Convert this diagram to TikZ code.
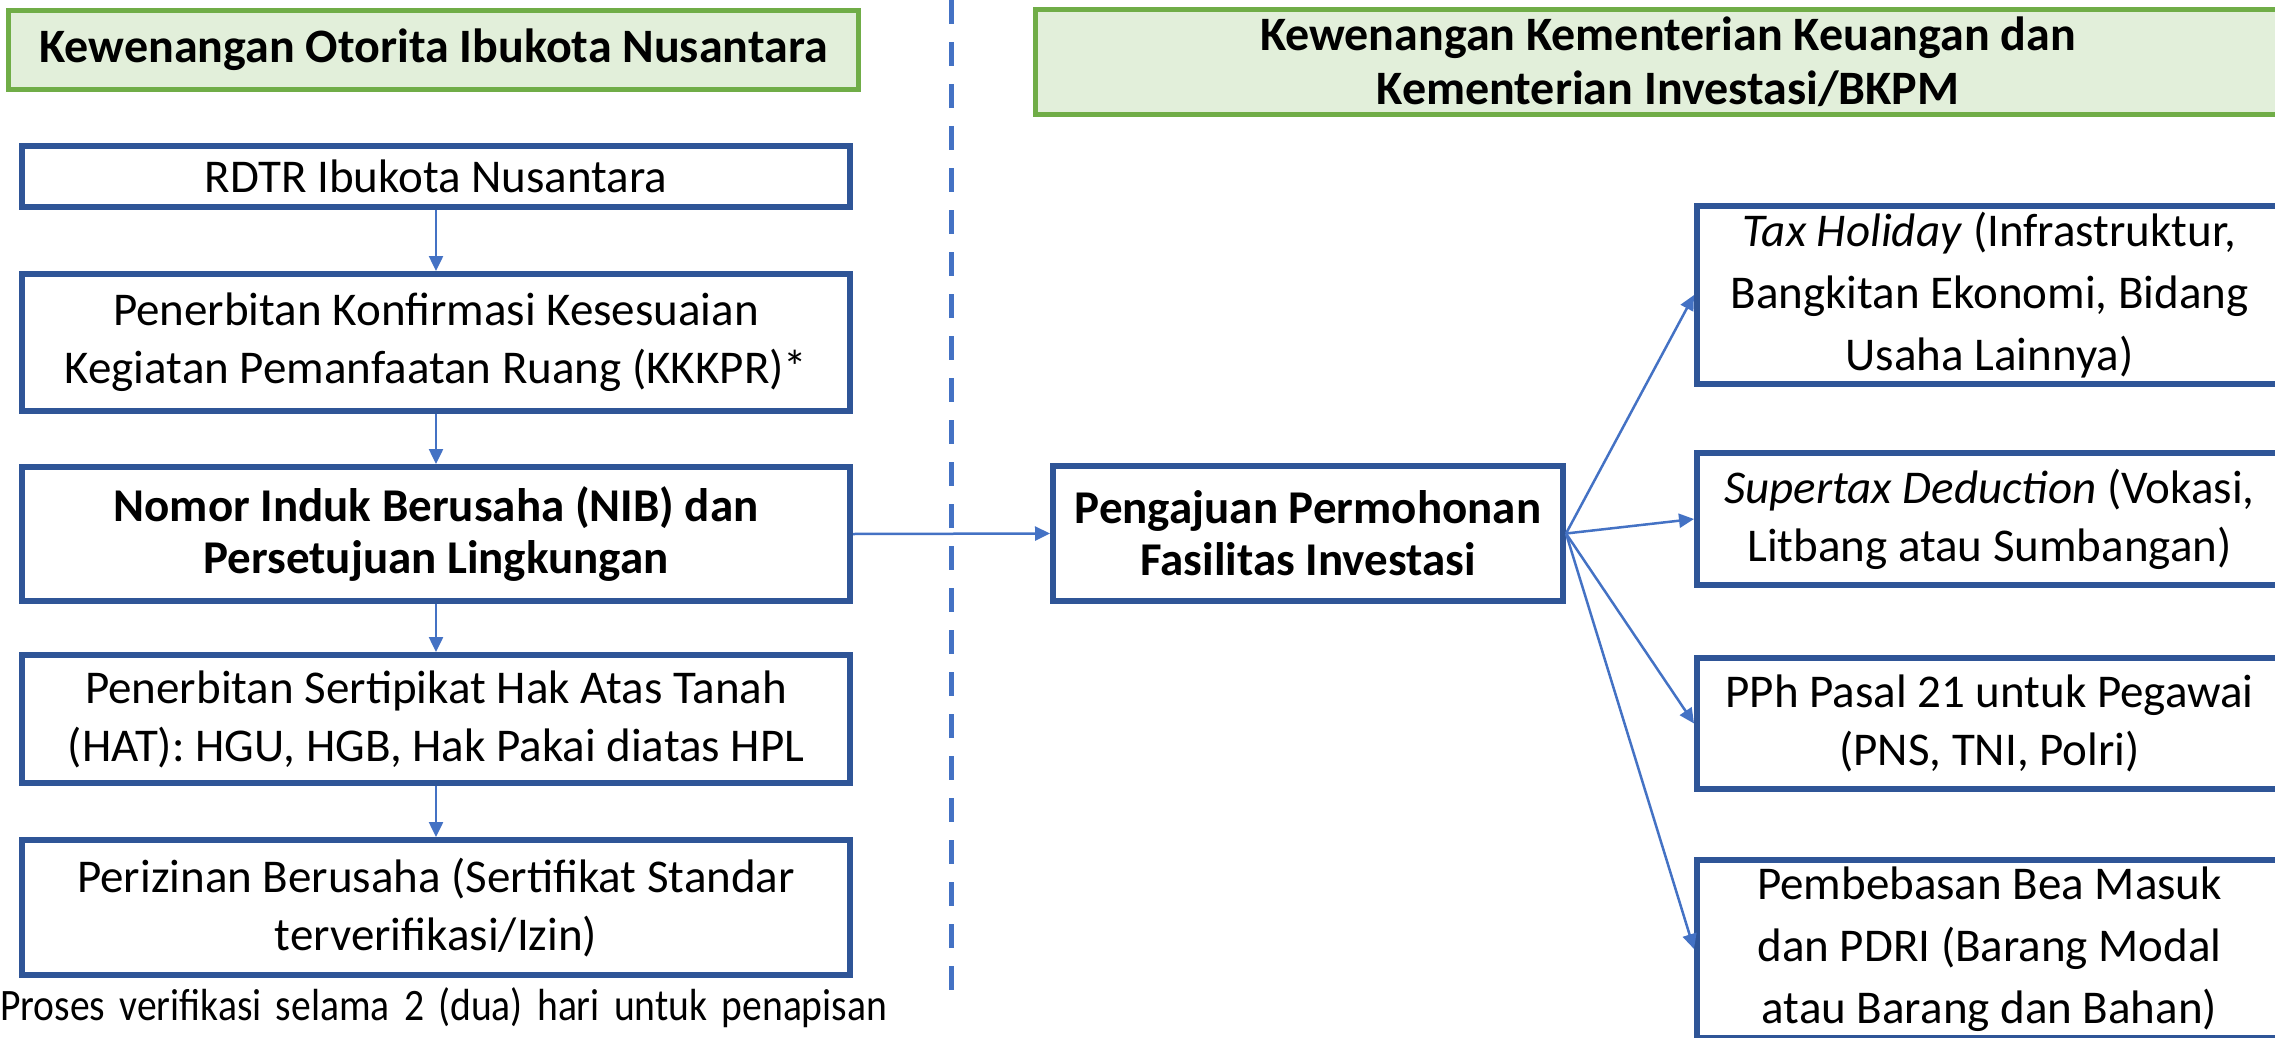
\documentclass[tikz,border=0pt]{standalone}
\usepackage{fontspec}
\setmainfont{Carlito}
\usepackage{graphicx}
\usepackage{tikz}
\usetikzlibrary{arrows.meta, positioning}
\usepackage{xcolor}
\definecolor{boxblue}{HTML}{2F5597}
\definecolor{lineblue}{HTML}{4472C4}
\definecolor{hdrgreen}{HTML}{70AD47}
\definecolor{hdrfill}{HTML}{E2EFDA}

\begin{document}
\begin{tikzpicture}[
  x=1pt, y=-1pt,
  font=\fontsize{47}{58}\selectfont,
  heading/.style={draw=hdrgreen, fill=hdrfill, line width=5pt,
                  font=\fontsize{48}{54}\selectfont\bfseries,
                  align=center, inner sep=2pt},
  proc/.style={draw=boxblue, line width=6pt, fill=white,
               align=center, inner sep=2pt, minimum width=828pt},
  procbold/.style={proc, font=\fontsize{47}{52}\selectfont\bfseries},
  facility/.style={proc, minimum width=585pt},
  tall/.style={font=\fontsize{47}{62}\selectfont},
  link/.style={-{Triangle[length=15pt, width=14pt]}, line width=2.5pt, lineblue},
  divider/.style={lineblue, line width=5pt, dash pattern=on 24pt off 18pt},
  note/.style={anchor=base west, inner sep=0pt, font=\fontsize{45}{54}\selectfont}
]
\clip (0,0) rectangle (2275,1038);

%% Headers
\node[heading, minimum width=850pt, minimum height=79pt] (hdrL) at (433.5,50)
    {Kewenangan Otorita Ibukota Nusantara};
\node[heading, minimum width=1265pt, minimum height=105pt] (hdrR) at (1668,62)
    {Kewenangan Kementerian Keuangan dan\\Kementerian Investasi/BKPM};

%% Divider
\coordinate (divtop) at (951,0);
\coordinate (divbot) at (951,1000);
\draw[divider] (divtop) -- (divbot);

%% Left column: OIKN
\node[proc, minimum height=61pt]      (rdtr)  at (436,176.5) {RDTR Ibukota Nusantara};
\node[proc, minimum height=137pt]     (kkkpr) at (436,342.5)
    {Penerbitan Konfirmasi Kesesuaian\\Kegiatan Pemanfaatan Ruang (KKKPR)*};
\node[procbold, minimum height=134pt] (nib)   at (436,534)
    {Nomor Induk Berusaha (NIB) dan\\Persetujuan Lingkungan};
\node[proc, minimum height=128pt]     (hat)   at (436,719)
    {Penerbitan Sertipikat Hak Atas Tanah\\(HAT): HGU, HGB, Hak Pakai diatas HPL};
\node[proc, minimum height=135pt]     (izin)  at (436,907.5)
    {Perizinan Berusaha (Sertifikat Standar\\terverifikasi/Izin)};
\node[note] (fn) at (0,1020)
    {\scalebox{0.88}[1]{\makebox[1008pt][s]{Proses verifikasi selama 2 (dua) hari untuk penapisan}}};

\draw[link] (rdtr.south)  -- (kkkpr.north);
\draw[link] (kkkpr.south) -- (nib.north);
\draw[link] (nib.south)   -- (hat.north);
\draw[link] (hat.south)   -- (izin.north);

%% Right column: Kemenkeu / BKPM
\node[procbold, minimum width=510pt, minimum height=135pt] (peng) at (1308,533.5)
    {Pengajuan Permohonan\\Fasilitas Investasi};
\node[facility, tall, minimum height=178pt] (tax)   at (1989.5,295)
    {\textit{Tax Holiday} (Infrastruktur,\\Bangkitan Ekonomi, Bidang\\Usaha Lainnya)};
\node[facility, minimum height=132pt]       (super) at (1989.5,519)
    {\textit{Supertax Deduction} (Vokasi,\\Litbang atau Sumbangan)};
\node[facility, minimum height=131pt]       (pph)   at (1989.5,723.5)
    {PPh Pasal 21 untuk Pegawai\\(PNS, TNI, Polri)};
\node[facility, tall, minimum height=178pt] (bea)   at (1989.5,949)
    {Pembebasan Bea Masuk\\dan PDRI (Barang Modal\\atau Barang dan Bahan)};

\draw[link] (nib.east)  -- (peng.west);
\draw[link] (peng.east) -- (tax.west);
\draw[link] (peng.east) -- (super.west);
\draw[link] (peng.east) -- (pph.west);
\draw[link] (peng.east) -- (bea.west);

\end{tikzpicture}
\end{document}
